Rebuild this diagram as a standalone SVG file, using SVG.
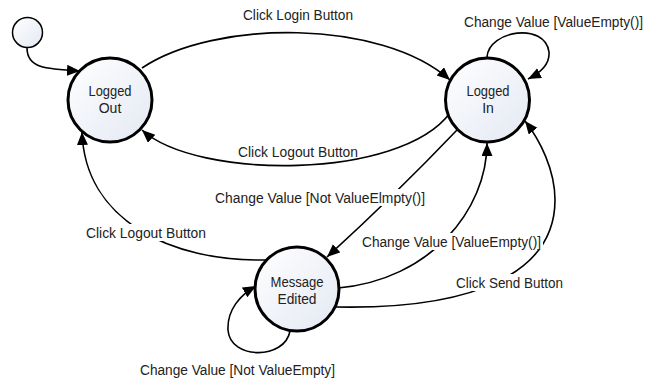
<svg xmlns="http://www.w3.org/2000/svg" width="655" height="381" viewBox="0 0 655 381">
<style>
.st{stroke:#000;stroke-width:3;fill:url(#g)}
.init{stroke:#000;stroke-width:1.5;fill:url(#g)}
.c{fill:none;stroke:#000;stroke-width:1.6}
.t{font-family:"Liberation Sans",Arial,sans-serif;font-size:14px;fill:#222}
.bg{fill:#fff}
</style>
<defs>
<linearGradient id="g" x1="0" y1="0" x2="1" y2="1">
<stop offset="0" stop-color="#ffffff"/>
<stop offset="1" stop-color="#e3e8f3"/>
</linearGradient>
<marker id="a" markerUnits="userSpaceOnUse" markerWidth="14" markerHeight="12" refX="13" refY="5.5" orient="auto">
<path d="M0,0 L13,5.5 L0,11 z" fill="#000"/>
</marker>
</defs>
<g id="connectors">
<path class="c" d="M27,48 C27,68 45,69 80,71" marker-end="url(#a)"/>
<path class="c" d="M142,68 C215,19 382,19 450,80" marker-end="url(#a)"/>
<path class="c" d="M450,113 C400,180 197,180 142,130" marker-end="url(#a)"/>
<path class="c" d="M487,57 C489,30 545,22 549,52 C550,64 540,73 528,79" marker-end="url(#a)"/>
<path class="c" d="M457,130 Q395,195 327,257" marker-end="url(#a)"/>
<path class="c" d="M338,288 C430,280 487,210 487,143" marker-end="url(#a)"/>
<path class="c" d="M335,307 C480,310 555,270 555,200 C555,170 540,140 525,121" marker-end="url(#a)"/>
<path class="c" d="M267,260 C170,262 85,220 82,132" marker-end="url(#a)"/>
<path class="c" d="M290,331 C285,360 230,360 228,330 C227,310 240,295 256,286" marker-end="url(#a)"/>
</g>
<g id="initial"><circle class="init" cx="27.5" cy="32.5" r="15"/></g>
<g id="logged-out">
<circle class="st" cx="110" cy="100" r="42"/>
<text class="t" x="110" y="96" text-anchor="middle" textLength="43" lengthAdjust="spacingAndGlyphs">Logged</text>
<text class="t" x="110" y="113" text-anchor="middle">Out</text>
</g>
<g id="logged-in">
<circle class="st" cx="487.5" cy="100" r="42"/>
<text class="t" x="488" y="96" text-anchor="middle" textLength="43" lengthAdjust="spacingAndGlyphs">Logged</text>
<text class="t" x="488" y="113" text-anchor="middle">In</text>
</g>
<g id="message-edited">
<circle class="st" cx="297" cy="289" r="42"/>
<text class="t" x="297" y="287" text-anchor="middle" textLength="53" lengthAdjust="spacingAndGlyphs">Message</text>
<text class="t" x="297" y="304" text-anchor="middle" textLength="39" lengthAdjust="spacingAndGlyphs">Edited</text>
</g>
<g id="labels">
<text class="t" x="243" y="20" textLength="110" lengthAdjust="spacingAndGlyphs">Click Login Button</text>
<text class="t" x="464" y="27" textLength="179" lengthAdjust="spacingAndGlyphs">Change Value [ValueEmpty()]</text>
<text class="t" x="238" y="157" textLength="120" lengthAdjust="spacingAndGlyphs">Click Logout Button</text>
<rect class="bg" x="213" y="189" width="214" height="17"/>
<text class="t" x="215" y="203" textLength="210" lengthAdjust="spacingAndGlyphs">Change Value [Not ValueElmpty()]</text>
<rect class="bg" x="360" y="233" width="183" height="17"/>
<text class="t" x="362" y="247" textLength="179" lengthAdjust="spacingAndGlyphs">Change Value [ValueEmpty()]</text>
<rect class="bg" x="454" y="274" width="111" height="17"/>
<text class="t" x="456" y="288" textLength="107" lengthAdjust="spacingAndGlyphs">Click Send Button</text>
<rect class="bg" x="84" y="224" width="124" height="17"/>
<text class="t" x="86" y="238" textLength="120" lengthAdjust="spacingAndGlyphs">Click Logout Button</text>
<text class="t" x="140" y="375" textLength="195" lengthAdjust="spacingAndGlyphs">Change Value [Not ValueEmpty]</text>
</g>
</svg>
